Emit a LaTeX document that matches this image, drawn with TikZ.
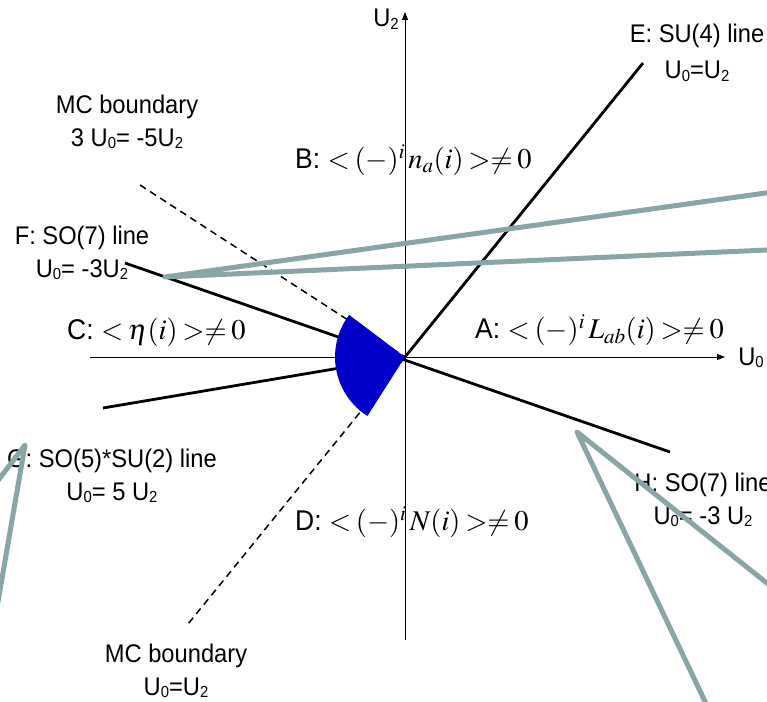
\documentclass[tikz,border=0pt]{standalone}
\usepackage{mathptmx}
\usepackage{fontspec}
\setmainfont{Liberation Sans}[FakeStretch=0.93]
\usetikzlibrary{arrows.meta}
\definecolor{sectorblue}{RGB}{0,0,200}
\definecolor{calloutgray}{RGB}{138,165,165}
\newcommand\lo[1]{\raisebox{-0.1em}{\fontsize{16}{16}\selectfont #1}}
\newcommand\tightmath{\thickmuskip=3mu\relax\medmuskip=2mu\relax}
\tikzset{
  axisline/.style={line width=0.9pt, -{Triangle[length=8pt,width=6pt]}},
  phaseline/.style={line width=2.8pt},
  mcline/.style={line width=1.5pt, dash pattern=on 7pt off 5pt},
  calloutline/.style={draw=calloutgray, line width=5pt, line join=round},
  lab/.style={font=\fontsize{25.5}{33}\selectfont, align=center, inner sep=0pt},
  mlab/.style={font=\fontsize{28.5}{34}\selectfont, inner sep=0pt, anchor=west},
}
\begin{document}
\begin{tikzpicture}[x=1pt,y=-1pt]
\useasboundingbox (0,0) rectangle (767,701);
% key points
\coordinate (O) at (405,357);
\coordinate (xs) at (90,357);
\coordinate (xe) at (725,357);
\coordinate (ys) at (405,640);
\coordinate (ye) at (405,12);
\coordinate (Eend) at (643,63);
\coordinate (Fend) at (125,263);
\coordinate (Hend) at (670,452);
\coordinate (Gend) at (103,408);
\coordinate (M1) at (140,185);
\coordinate (M2) at (188,624);
% axes
\draw[axisline] (xs) -- (xe);
\draw[axisline] (ys) -- (ye);
\node[lab] (U0) at (751,358) {U\lo{0}};
\node[lab] (U2) at (386,19) {U\lo{2}};
% phase lines
\draw[phaseline] (O) -- (Eend);
\draw[phaseline] (Fend) -- (Hend);
\draw[phaseline] (Gend) -- (O);
\draw[mcline] (M1) -- (O);
\draw[mcline] (O) -- (M2);
% sector
\fill[sectorblue] (O) -- ++(-143:70) arc[start angle=-143, end angle=-237.5, radius=70] -- cycle;
% region labels
\node[mlab] (B) at (295,160) {B: $\tightmath<(-)^{i}\,n_{a}(i)>\neq 0$};
\node[mlab] (A) at (475,330) {A: $\tightmath<(-)^{i}\,L_{ab}(i)>\neq 0$};
\node[mlab] (C) at (67,332) {C: $\tightmath<\eta(i)>\neq 0$};
\node[mlab] (D) at (295,522) {D: $\tightmath<(-)^{i}\,N(i)>\neq 0$};
% line labels
\node[lab] (Elab) at (697,53) {E: SU(4) line\\[3pt]U\lo{0}=U\lo{2}};
\node[lab] (MCtop) at (127,122) {MC boundary\\3 U\lo{0}= -5U\lo{2}};
\node[lab] (Flab) at (82,253) {F: SO(7) line\\U\lo{0}= -3U\lo{2}};
\node[lab] (Glab) at (112,476) {G: SO(5)*SU(2) line\\U\lo{0}= 5 U\lo{2}};
\node[lab] (MCbot) at (176,671) {MC boundary\\U\lo{0}=U\lo{2}};
\node[lab] (Hlab) at (703,500) {H: SO(7) line\\U\lo{0}= -3 U\lo{2}};
% callout lines
\begin{scope}
\clip (0,0) rectangle (767,701);
\coordinate (pF) at (165,277);
\coordinate (pF1) at (780,191);
\coordinate (pF2) at (780,249.4);
\coordinate (pG) at (25,445);
\coordinate (pG1) at (-10,491);
\coordinate (pG2) at (-5,619);
\coordinate (pH) at (577,432);
\coordinate (pH1) at (780,593.5);
\coordinate (pH2) at (710,712);
\draw[calloutline] (pF1) -- (pF) -- (pF2);
\draw[calloutline] (pG1) -- (pG) -- (pG2);
\draw[calloutline] (pH1) -- (pH) -- (pH2);
\end{scope}
\end{tikzpicture}
\end{document}
